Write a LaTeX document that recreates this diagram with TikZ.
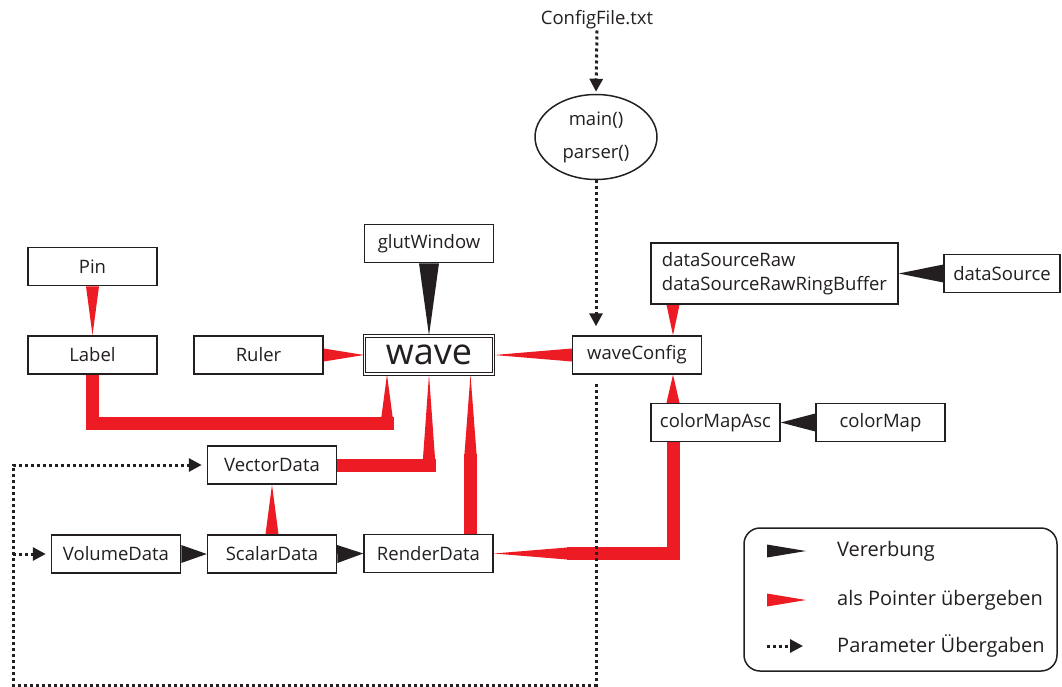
\documentclass[tikz,border=0pt]{standalone}
\usepackage{fontspec}
\setmainfont{Open Sans}
\usetikzlibrary{positioning, arrows.meta, shapes.geometric, backgrounds, calc}

\definecolor{ptrred}{RGB}{237,28,36}
\definecolor{inkblack}{RGB}{35,31,32}

% keilfoermiger Pfeil: Farbe, halbe Breite, Basis, Spitze
\newcommand{\taper}[4]{%
  \fill[#1] ($(#3)!#2!90:(#4)$) -- (#4) -- ($(#3)!#2!-90:(#4)$) -- cycle;}

\begin{document}
\begin{tikzpicture}[
        x=1pt, y=-1pt,
        >={Triangle[length=13pt,width=13pt]},
        cls/.style={draw=inkblack, fill=white, line width=1.5pt, minimum width=129pt, minimum height=38pt, inner sep=2pt, text=inkblack, font=\fontsize{18.5}{24}\selectfont},
        mainbox/.style={cls, double, double distance=1.6pt, line width=1.1pt, font=\fontsize{36}{40}\selectfont},
        func/.style={draw=inkblack, fill=white, ellipse, line width=1.5pt, minimum width=122pt, minimum height=85pt, inner sep=0pt, align=center, text=inkblack, font=\fontsize{18.5}{22}\selectfont},
        txt/.style={inner sep=1pt, text=inkblack, font=\fontsize{18.5}{22}\selectfont},
        ptr/.style={draw=ptrred, line width=13pt, line cap=rect},
        param/.style={draw=inkblack, line width=3pt, dash pattern=on 3pt off 3pt, ->},
        legend/.style={draw=inkblack, line width=1.5pt, rounded corners=16pt, minimum width=313pt, minimum height=143pt},
        legtxt/.style={txt, anchor=west, inner sep=0pt, font=\fontsize{20}{24}\selectfont}
    ]
    \useasboundingbox (0,0) rectangle (1062,687);

    % --- Eingabe ---
    \node[txt] (cfgfile) at (597,20) {ConfigFile.txt};
    \node[func] (mainfn) at (596,137) {main()\\[11pt]parser()};

    % --- Klassen ---
    \node[cls] (pin) at (92.5,266.5) {Pin};
    \node[cls] (label) at (92.5,355) {Label};
    \node[cls] (ruler) at (258.5,355) {Ruler};
    \node[cls] (glut) at (429,243.5) {glutWindow};
    \node[mainbox] (wave) at (429,355) {wave};
    \node[cls] (wavecfg) at (637,355) {waveConfig};
    \node[cls, align=left, minimum width=247pt, minimum height=61pt] (dsraw) at (774.5,273.5) {dataSourceRaw\\dataSourceRawRingBuffer};
    \node[cls, minimum width=116pt] (dsrc) at (1002,273.5) {dataSource};
    \node[cls] (cmapasc) at (715.5,422.5) {colorMapAsc};
    \node[cls] (cmap) at (880.5,422.5) {colorMap};
    \node[cls] (vecdata) at (272,465) {VectorData};
    \node[cls] (voldata) at (116,554) {VolumeData};
    \node[cls] (scadata) at (272,554) {ScalarData};
    \node[cls] (renddata) at (428.5,553.5) {RenderData};

    % --- Legende ---
    \node[legend] (leg) at (900.5,599.5) {};
    \node[legtxt] (leg-inh) at (837,551) {Vererbung};
    \node[legtxt] (leg-ptr) at (837,600) {als Pointer übergeben};
    \node[legtxt] (leg-par) at (837,646) {Parameter Übergaben};
    \coordinate (li-a) at (767,551);
    \coordinate (li-b) at (806,551);
    \coordinate (lp-a) at (767,600);
    \coordinate (lp-b) at (806,600);
    \coordinate (lq-a) at (767,646);
    \coordinate (lq-b) at (803,646);

    % --- Knickpunkte ---
    \coordinate (lbl-bend) at (387,423.5);
    \coordinate (vd-bend) at (429,465);
    \coordinate (rd-bend) at (470.5,460);
    \coordinate (cm-bend) at (573,553.5);
    \coordinate (cfg-x) at (673,355);
    \coordinate (param-corner) at (13,685);

    \begin{scope}[on background layer]
    % --- Pointer (rot) ---
    \draw[ptr] (label.south) |- (lbl-bend);
    \draw[ptr] (vecdata.east) -- (vd-bend);
    \draw[ptr] (renddata.north -| rd-bend) -- (rd-bend);
    \draw[ptr] (cmapasc.south -| cfg-x) |- (cm-bend);
    \taper{ptrred}{6.5pt}{lbl-bend}{wave.south -| lbl-bend}
    \taper{ptrred}{6.5pt}{vd-bend}{wave.south -| vd-bend}
    \taper{ptrred}{6.5pt}{rd-bend}{wave.south -| rd-bend}
    \taper{ptrred}{6.5pt}{cm-bend}{renddata.east}
    \taper{ptrred}{6.5pt}{pin.south}{label.north}
    \taper{ptrred}{6.5pt}{ruler.east}{wave.west}
    \taper{ptrred}{6.5pt}{wavecfg.west}{wave.east}
    \taper{ptrred}{6.5pt}{dsraw.south -| cfg-x}{wavecfg.north -| cfg-x}
    \taper{ptrred}{6.5pt}{cmapasc.north -| cfg-x}{wavecfg.south -| cfg-x}
    \taper{ptrred}{6.5pt}{scadata.north}{vecdata.south}

    % --- Vererbung (schwarz) ---
    \taper{inkblack}{10pt}{glut.south}{wave.north}
    \taper{inkblack}{9pt}{dsrc.west}{dsraw.east}
    \taper{inkblack}{9pt}{cmap.west}{cmapasc.east}
    \taper{inkblack}{9pt}{voldata.east}{scadata.west}
    \taper{inkblack}{9pt}{scadata.east}{renddata.west}

    % --- Parameter (gepunktet) ---
    \draw[param, shorten >=2pt] (cfgfile.south) -- (mainfn.north);
    \draw[param, shorten >=9pt] (mainfn.south) -- (mainfn.south |- wavecfg.north);
    \draw[param, shorten <=9pt, shorten >=5pt] (wavecfg.south -| mainfn.south) |- (param-corner) |- (vecdata.west);
    \draw[param, shorten >=5pt] (param-corner |- voldata.west) -- (voldata.west);
    \end{scope}

    % --- Legende: Symbole ---
    \taper{inkblack}{6.5pt}{li-a}{li-b}
    \taper{ptrred}{6.5pt}{lp-a}{lp-b}
    \draw[param] (lq-a) -- (lq-b);
\end{tikzpicture}
\end{document}
